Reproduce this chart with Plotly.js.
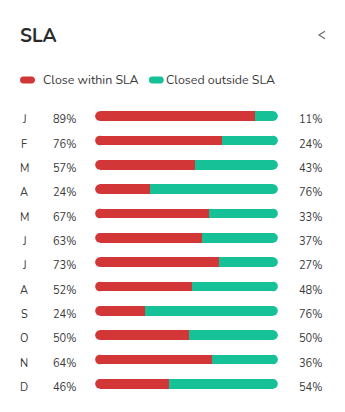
<!DOCTYPE html>
<html>
<head>
<meta charset="utf-8">
<script src="https://cdn.plot.ly/plotly-3.0.1.min.js"></script>
<style>html,body{margin:0;padding:0;background:#fff;}#chart{width:345px;height:412px;}</style>
</head>
<body>
<div id="chart"></div>
<script>
// ---- data ----
var months = ["J","F","M","A","M","J","J","A","S","O","N","D"];
var withinPct = [89, 76, 57, 24, 67, 63, 73, 52, 24, 50, 64, 46];
var outsidePct = [11, 24, 43, 76, 33, 37, 27, 48, 76, 50, 36, 54];
// bar segment lengths as drawn in the picture
var withinBar = [89.4, 70.6, 55.0, 28.8, 63.1, 59.1, 68.9, 53.4, 26.1, 51.5, 65.0, 40.0];
var outsideBar = [10.6, 29.4, 45.0, 71.2, 36.9, 40.9, 31.1, 46.6, 73.9, 48.5, 35.0, 60.0];
var seriesNames = ["Close within SLA", "Closed outside SLA"];

// ---- styles ----
var RED = "rgb(211,54,55)";
var GREEN = "rgb(23,193,151)";
var TXT = "#3b3b3b";
var FONT = "Nunito, Lato, 'Open Sans', sans-serif";
var W = 345, H = 412, L = 100, R = 72, T = 104, B = 16;
var PW = W - L - R, PH = H - T - B;
function px2x(p){ return (p - L) / PW; }
function py2y(p){ return (H - B - p) / PH; }

var rows = months.map(function(_, i){ return i; });
var ends = withinBar.map(function(v, i){ return v + outsideBar[i]; });
var starts = withinBar.map(function(){ return 0; });

var traces = [
  {type:"bar", orientation:"h", name:seriesNames[0], y:rows, x:withinBar,
   marker:{color:RED, line:{width:0}}, width:0.4, hoverinfo:"skip", showlegend:false},
  {type:"bar", orientation:"h", name:seriesNames[1], y:rows, x:outsideBar,
   marker:{color:GREEN, line:{width:0}}, width:0.4, hoverinfo:"skip", showlegend:false},
  {type:"scatter", mode:"markers", x:starts, y:rows, cliponaxis:false,
   marker:{color:RED, size:9.7, line:{width:0}}, hoverinfo:"skip", showlegend:false},
  {type:"scatter", mode:"markers", x:ends, y:rows, cliponaxis:false,
   marker:{color:GREEN, size:9.7, line:{width:0}}, hoverinfo:"skip", showlegend:false}
];

var annotations = [];
months.forEach(function(m, i){
  annotations.push({xref:"paper", yref:"y", x:px2x(24), y:i, text:m, showarrow:false,
    xanchor:"center", yanchor:"middle", yshift:-3.5, font:{family:FONT, size:11, color:TXT}});
  annotations.push({xref:"paper", yref:"y", x:px2x(50.5), y:i, text:withinPct[i]+"%", showarrow:false,
    xanchor:"left", yanchor:"middle", yshift:-3.5, font:{family:FONT, size:11, color:TXT}});
  annotations.push({xref:"paper", yref:"y", x:px2x(296.5), y:i, text:outsidePct[i]+"%", showarrow:false,
    xanchor:"left", yanchor:"middle", yshift:-3.5, font:{family:FONT, size:11, color:TXT}});
});
annotations.push({xref:"paper", yref:"paper", x:px2x(42.5), y:py2y(80), text:seriesNames[0], showarrow:false,
  xanchor:"left", yanchor:"middle", xshift:-2, font:{family:FONT, size:12.4, color:TXT}});
annotations.push({xref:"paper", yref:"paper", x:px2x(166), y:py2y(80), text:seriesNames[1], showarrow:false,
  xanchor:"left", yanchor:"middle", xshift:-2, font:{family:FONT, size:12.4, color:TXT}});

function pill(cx, cy, color){
  return {type:"path", xref:"paper", yref:"paper", xsizemode:"pixel", ysizemode:"pixel",
    xanchor:px2x(cx), yanchor:py2y(cy),
    path:"M -4,-3.5 L 4,-3.5 C 8.67,-3.5 8.67,3.5 4,3.5 L -4,3.5 C -8.67,3.5 -8.67,-3.5 -4,-3.5 Z",
    fillcolor:color, line:{width:0}};
}
var shapes = [
  pill(27.5, 80, RED),
  pill(156.3, 80, GREEN),
  {type:"path", xref:"paper", yref:"paper", xsizemode:"pixel", ysizemode:"pixel",
   xanchor:px2x(322), yanchor:py2y(35), path:"M 3,3.7 L -3,0 L 3,-3.7",
   line:{color:"#6b6b6b", width:1.2}}
];

var layout = {
  width:W, height:H,
  margin:{l:L, r:R, t:T, b:B, pad:0},
  paper_bgcolor:"#fff", plot_bgcolor:"#fff",
  barmode:"stack", bargap:0,
  showlegend:false,
  title:{text:"<b>SLA</b>", x:20/W, xanchor:"left", xref:"container", y:1-35/H, yanchor:"middle", yref:"container",
    font:{family:FONT, size:19, color:"#2b2b2b"}},
  xaxis:{range:[0,100], showgrid:false, zeroline:false, showticklabels:false, showline:false, fixedrange:true},
  yaxis:{range:[11.5,-0.5], showgrid:false, zeroline:false, showticklabels:false, showline:false, fixedrange:true},
  annotations:annotations,
  shapes:shapes
};

Plotly.newPlot("chart", traces, layout, {displayModeBar:false, staticPlot:true});
</script>
</body>
</html>
